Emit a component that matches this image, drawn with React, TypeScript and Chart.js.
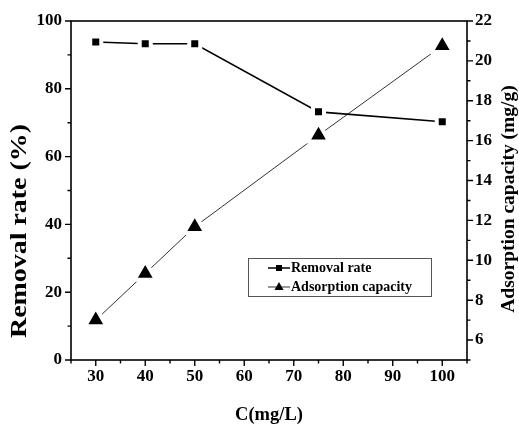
import React, { useEffect, useRef } from "react";
import { Chart, registerables } from "chart.js";

Chart.register(...registerables);

// ---- data ----
const concentrations = [30, 40, 50, 75, 100];
const removalRate = [93.8, 93.3, 93.3, 73.2, 70.3];
const adsorptionCapacity = [7.0, 9.34, 11.68, 16.27, 20.76];
const xTickValues = [30, 40, 50, 60, 70, 80, 90, 100];
const leftTickValues = [0, 20, 40, 60, 80, 100];
const rightTickValues = [6, 8, 10, 12, 14, 16, 18, 20, 22];
const seriesLabels = ["Removal rate", "Adsorption capacity"];
const xTitle = "C(mg/L)";
const leftTitle = "Removal rate (%)";
const rightTitle = "Adsorption capacity (mg/g)";

const FONT = '"Liberation Serif", "Times New Roman", serif';
const TICK_FONT = { family: FONT, size: 17, weight: "bold" as const };

function minorValues(majors: number[], min: number, max: number) {
  const out: number[] = [];
  const step = majors[1] - majors[0];
  const first = majors[0] - step / 2;
  if (first >= min) out.push(first);
  for (let i = 0; i < majors.length - 1; i++) out.push((majors[i] + majors[i + 1]) / 2);
  const last = majors[majors.length - 1] + step / 2;
  if (last <= max) out.push(last);
  return out;
}

const decorPlugin = {
  id: "decor",
  afterDraw(chart: any) {
    const ctx: CanvasRenderingContext2D = chart.ctx;
    const { left, right, top, bottom } = chart.chartArea;
    const sx = chart.scales.x;
    const sy = chart.scales.y;
    const sy1 = chart.scales.y1;
    ctx.save();
    ctx.strokeStyle = "#000";
    ctx.lineWidth = 1.6;
    ctx.strokeRect(left, top, right - left, bottom - top);

    const major = 6;
    const minor = 3.5;
    ctx.lineWidth = 1.4;
    ctx.beginPath();
    xTickValues.forEach((v) => {
      const p = sx.getPixelForValue(v);
      ctx.moveTo(p, bottom);
      ctx.lineTo(p, bottom + major);
    });
    minorValues(xTickValues, sx.min, sx.max).forEach((v) => {
      const p = sx.getPixelForValue(v);
      ctx.moveTo(p, bottom);
      ctx.lineTo(p, bottom + minor);
    });
    leftTickValues.forEach((v) => {
      const p = sy.getPixelForValue(v);
      ctx.moveTo(left, p);
      ctx.lineTo(left - major, p);
    });
    minorValues(leftTickValues, sy.min, sy.max).forEach((v) => {
      const p = sy.getPixelForValue(v);
      ctx.moveTo(left, p);
      ctx.lineTo(left - minor, p);
    });
    rightTickValues.forEach((v) => {
      const p = sy1.getPixelForValue(v);
      ctx.moveTo(right, p);
      ctx.lineTo(right + major, p);
    });
    minorValues(rightTickValues, sy1.min, sy1.max).forEach((v) => {
      const p = sy1.getPixelForValue(v);
      ctx.moveTo(right, p);
      ctx.lineTo(right + minor, p);
    });
    ctx.stroke();

    // titles
    ctx.fillStyle = "#000";
    ctx.textAlign = "center";
    ctx.font = `bold 18.5px ${FONT}`;
    ctx.textBaseline = "alphabetic";
    ctx.fillText(xTitle, (left + right) / 2, 420);

    ctx.save();
    ctx.translate(20, 231);
    ctx.rotate(-Math.PI / 2);
    ctx.font = `bold 23px ${FONT}`;
    ctx.textBaseline = "middle";
    const lw = ctx.measureText(leftTitle).width;
    ctx.scale(214 / lw, 1);
    ctx.fillText(leftTitle, 0, 0);
    ctx.restore();

    ctx.save();
    ctx.translate(509, 199);
    ctx.rotate(-Math.PI / 2);
    ctx.font = `bold 19.5px ${FONT}`;
    ctx.textBaseline = "middle";
    ctx.fillText(rightTitle, 0, 0);
    ctx.restore();

    // legend
    const bx = 248.5, by = 258.5, bw = 183, bh = 38;
    ctx.strokeStyle = "#555";
    ctx.lineWidth = 1;
    ctx.strokeRect(bx, by, bw, bh);
    const rows = [268, 287];
    const lx0 = 268, lx1 = 290, mx = 279;
    // row 1
    ctx.strokeStyle = "#000";
    ctx.lineWidth = 1.5;
    ctx.beginPath();
    ctx.moveTo(lx0, rows[0]);
    ctx.lineTo(lx1, rows[0]);
    ctx.stroke();
    ctx.fillStyle = "#000";
    ctx.fillRect(mx - 3, rows[0] - 3, 6, 6);
    // row 2
    ctx.strokeStyle = "#333";
    ctx.lineWidth = 1;
    ctx.beginPath();
    ctx.moveTo(lx0, rows[1]);
    ctx.lineTo(lx1, rows[1]);
    ctx.stroke();
    ctx.beginPath();
    ctx.moveTo(mx, rows[1] - 5);
    ctx.lineTo(mx + 4.5, rows[1] + 3);
    ctx.lineTo(mx - 4.5, rows[1] + 3);
    ctx.closePath();
    ctx.fill();
    ctx.font = `bold 14px ${FONT}`;
    ctx.textAlign = "left";
    ctx.textBaseline = "middle";
    const labels = chart.data.datasets.map((d: any) => d.label);
    ctx.fillText(labels[0], 291, rows[0]);
    ctx.fillText(labels[1], 291, rows[1]);
    ctx.restore();
  },
};

export default function App() {
  const ref = useRef<HTMLCanvasElement | null>(null);
  useEffect(() => {
    document.body.style.margin = "0";
    const canvas = ref.current;
    if (!canvas) return;
    const chart = new Chart(canvas, {
      type: "line",
      data: {
        datasets: [
          {
            label: seriesLabels[0],
            data: concentrations.map((c, i) => ({ x: c, y: removalRate[i] })),
            yAxisID: "y",
            borderColor: "#000",
            borderWidth: 1.6,
            pointStyle: "rect",
            pointRadius: 7.8,
            pointBackgroundColor: "#000",
            pointBorderColor: "#fff",
            pointBorderWidth: 4,
            tension: 0,
          },
          {
            label: seriesLabels[1],
            data: concentrations.map((c, i) => ({ x: c, y: adsorptionCapacity[i] })),
            yAxisID: "y1",
            borderColor: "#333",
            borderWidth: 1,
            pointStyle: "triangle",
            pointRadius: 12.5,
            pointBackgroundColor: "#000",
            pointBorderColor: "#fff",
            pointBorderWidth: 4,
            tension: 0,
          },
        ],
      },
      options: {
        responsive: false,
        animation: false,
        events: [],
        devicePixelRatio: 1,
        layout: { padding: { top: 21, left: 0, right: 0, bottom: 0 } },
        plugins: { legend: { display: false }, tooltip: { enabled: false } },
        scales: {
          x: {
            type: "linear",
            min: 25,
            max: 105,
            afterBuildTicks: (s: any) => {
              s.ticks = xTickValues.map((v) => ({ value: v }));
            },
            afterFit: (s: any) => {
              s.height = 64;
            },
            grid: { display: false, drawTicks: false },
            border: { display: false },
            ticks: { font: TICK_FONT, color: "#000", padding: 6, maxRotation: 0 },
          },
          y: {
            type: "linear",
            position: "left",
            min: 0,
            max: 100,
            afterBuildTicks: (s: any) => {
              s.ticks = leftTickValues.map((v) => ({ value: v }));
            },
            afterFit: (s: any) => {
              s.width = 71;
            },
            grid: { display: false, drawTicks: false },
            border: { display: false },
            ticks: { font: TICK_FONT, color: "#000", padding: 9 },
          },
          y1: {
            type: "linear",
            position: "right",
            min: 5,
            max: 22,
            afterBuildTicks: (s: any) => {
              s.ticks = rightTickValues.map((v) => ({ value: v }));
            },
            afterFit: (s: any) => {
              s.width = 52;
            },
            grid: { display: false, drawTicks: false },
            border: { display: false },
            ticks: { font: TICK_FONT, color: "#000", padding: 8 },
          },
        },
      },
      plugins: [decorPlugin],
    });
    return () => chart.destroy();
  }, []);
  return (
    <div style={{ width: 519, height: 424, background: "#fff" }}>
      <canvas ref={ref} width={519} height={424} style={{ display: "block" }} />
    </div>
  );
}
